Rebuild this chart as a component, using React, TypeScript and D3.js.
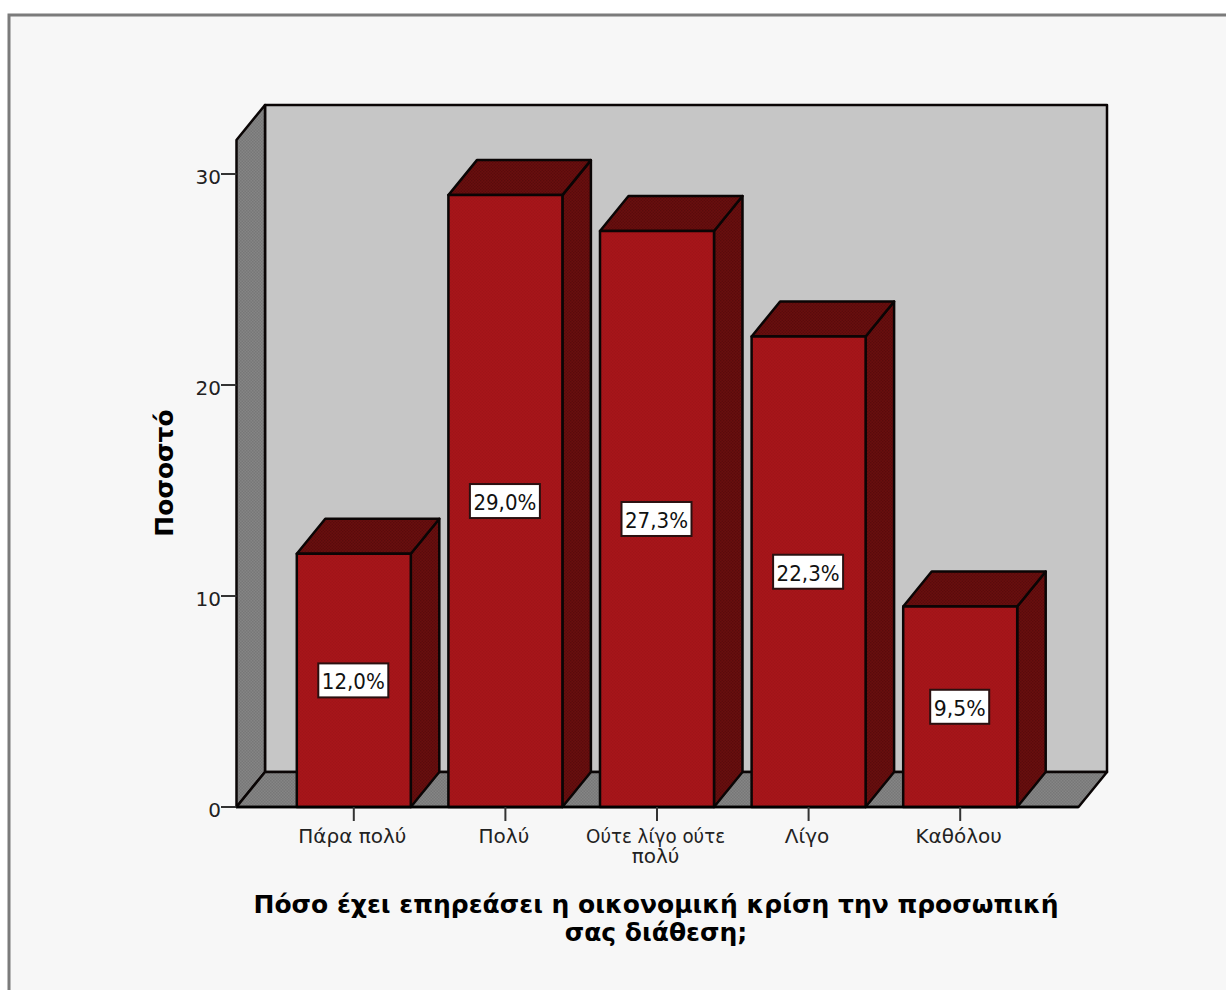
import { useEffect, useRef } from "react";
import * as d3 from "d3";

const categories = ["Πάρα πολύ", "Πολύ", "Ούτε λίγο ούτε πολύ", "Λίγο", "Καθόλου"];
const categoryLines = [["Πάρα πολύ"], ["Πολύ"], ["Ούτε λίγο ούτε", "πολύ"], ["Λίγο"], ["Καθόλου"]];
const percents = [12.0, 29.0, 27.3, 22.3, 9.5];
const percentLabels = ["12,0%", "29,0%", "27,3%", "22,3%", "9,5%"];
const yTicks = [0, 10, 20, 30];
const yTitle = "Ποσοστό";
const xTitleLines = ["Πόσο έχει επηρεάσει η οικονομική κρίση την προσωπική", "σας διάθεση;"];

const FONT = "'DejaVu Sans', sans-serif";

export default function App() {
  const svgRef = useRef<SVGSVGElement>(null);

  useEffect(() => {
    if (!svgRef.current) return;
    const svg = d3.select(svgRef.current);
    svg.selectAll("*").remove();

    const y = d3.scaleLinear().domain([0, 30]).range([807, 174]);
    const x = d3.scaleBand<string>().domain(categories).range([278, 1036]).paddingInner(0.248).paddingOuter(0.124);
    const dx = 28.5;
    const dy = -35;
    const left = 236.5;
    const right = 1078.5;
    const wallTop = 140;

    const poly = (pts: [number, number][]) => (d3.line()(pts) ?? "") + "Z";

    // dithered fills, like the original bitmap
    const defs = svg.append("defs");
    const dither = (id: string, a: string, b: string) => {
      const p = defs.append("pattern").attr("id", id).attr("width", 3).attr("height", 3).attr("patternUnits", "userSpaceOnUse");
      p.append("rect").attr("width", 3).attr("height", 3).attr("fill", a);
      p.append("rect").attr("width", 1.5).attr("height", 1.5).attr("fill", b);
      p.append("rect").attr("x", 1.5).attr("y", 1.5).attr("width", 1.5).attr("height", 1.5).attr("fill", b);
    };
    dither("ditherGray", "#858585", "#777777");
    dither("ditherDark", "#6a0e0e", "#590b0b");
    dither("ditherRed", "#a8151a", "#a01418");

    // page frame
    svg.append("rect").attr("width", 1226).attr("height", 990).attr("fill", "#ffffff");
    svg.append("path")
      .attr("d", "M9,990V15H1226V990Z")
      .attr("fill", "#f7f7f7");
    svg.append("path")
      .attr("d", "M9,990V15H1226")
      .attr("fill", "none")
      .attr("stroke", "#7b7b7b")
      .attr("stroke-width", 3);

    const g3d = svg.append("g").attr("stroke", "#0a0505").attr("stroke-width", 2.5).attr("stroke-linejoin", "round");

    // back wall, side wall, floor
    g3d.append("path")
      .attr("d", poly([[left + dx, wallTop + dy], [right + dx, wallTop + dy], [right + dx, y(0) + dy], [left + dx, y(0) + dy]]))
      .attr("fill", "#c6c6c6");
    g3d.append("path")
      .attr("d", poly([[left, wallTop], [left + dx, wallTop + dy], [left + dx, y(0) + dy], [left, y(0)]]))
      .attr("fill", "url(#ditherGray)");
    g3d.append("path")
      .attr("d", poly([[left, y(0)], [left + dx, y(0) + dy], [right + dx, y(0) + dy], [right, y(0)]]))
      .attr("fill", "url(#ditherGray)");

    // bars
    categories.forEach((c, i) => {
      const x0 = x(c)!;
      const x1 = x0 + x.bandwidth();
      const top = y(percents[i]);
      const bar = g3d.append("g");
      bar.append("path")
        .attr("d", poly([[x1, top], [x1 + dx, top + dy], [x1 + dx, y(0) + dy], [x1, y(0)]]))
        .attr("fill", "url(#ditherDark)");
      bar.append("path")
        .attr("d", poly([[x0, top], [x0 + dx, top + dy], [x1 + dx, top + dy], [x1, top]]))
        .attr("fill", "url(#ditherDark)");
      bar.append("rect")
        .attr("x", x0).attr("y", top)
        .attr("width", x.bandwidth()).attr("height", y(0) - top)
        .attr("fill", "url(#ditherRed)");
    });

    // value labels
    const labels = svg.append("g").attr("font-family", FONT).attr("font-size", 21);
    categories.forEach((c, i) => {
      const cx = x(c)! + x.bandwidth() / 2 - 0.5;
      const cy = (y(0) + y(percents[i])) / 2;
      const w = percentLabels[i].length === 4 ? 59 : 70;
      labels.append("rect")
        .attr("x", cx - w / 2).attr("y", cy - 17)
        .attr("width", w).attr("height", 34)
        .attr("fill", "#fff").attr("stroke", "#2a1010").attr("stroke-width", 2);
      labels.append("text")
        .attr("x", cx).attr("y", cy + 9)
        .attr("text-anchor", "middle")
        .attr("textLength", w - 7).attr("lengthAdjust", "spacingAndGlyphs")
        .attr("fill", "#111")
        .text(percentLabels[i]);
    });

    // y axis
    const yAxis = svg.append("g").attr("font-family", FONT).attr("font-size", 20);
    yTicks.forEach((t) => {
      yAxis.append("line")
        .attr("x1", 221).attr("x2", left).attr("y1", y(t)).attr("y2", y(t))
        .attr("stroke", "#333").attr("stroke-width", 2);
      yAxis.append("text")
        .attr("x", 221).attr("y", y(t) + 10)
        .attr("text-anchor", "end")
        .attr("fill", "#222")
        .text(t);
    });

    // x axis
    svg.append("line")
      .attr("x1", left).attr("x2", right).attr("y1", y(0)).attr("y2", y(0))
      .attr("stroke", "#000").attr("stroke-width", 2.5);
    const xAxis = svg.append("g").attr("font-family", FONT).attr("font-size", 20);
    categories.forEach((c, i) => {
      const cx = x(c)! + x.bandwidth() / 2;
      xAxis.append("line")
        .attr("x1", cx).attr("x2", cx).attr("y1", y(0)).attr("y2", 821)
        .attr("stroke", "#333").attr("stroke-width", 2);
      categoryLines[i].forEach((line, k) => {
        const t = xAxis.append("text")
          .attr("x", cx - 1.5).attr("y", 843 + k * 20)
          .attr("text-anchor", "middle")
          .attr("fill", "#222")
          .text(line);
        // the long first line is tighter than the rest in the source
        if (line.length > 12) t.attr("textLength", 139).attr("lengthAdjust", "spacingAndGlyphs");
      });
    });

    // axis titles
    const titles = svg.append("g")
      .attr("font-family", FONT).attr("font-size", 25).attr("font-weight", "bold").attr("fill", "#000");
    xTitleLines.forEach((line, k) => {
      titles.append("text")
        .attr("x", 656).attr("y", 913 + k * 28)
        .attr("text-anchor", "middle")
        .text(line);
    });
    titles.append("text")
      .attr("transform", "translate(173,473) rotate(-90)")
      .attr("text-anchor", "middle")
      .text(yTitle);
  }, []);

  return (
    <svg
      ref={svgRef}
      width={1226}
      height={990}
      style={{ position: "absolute", left: 0, top: 0, display: "block" }}
    />
  );
}
